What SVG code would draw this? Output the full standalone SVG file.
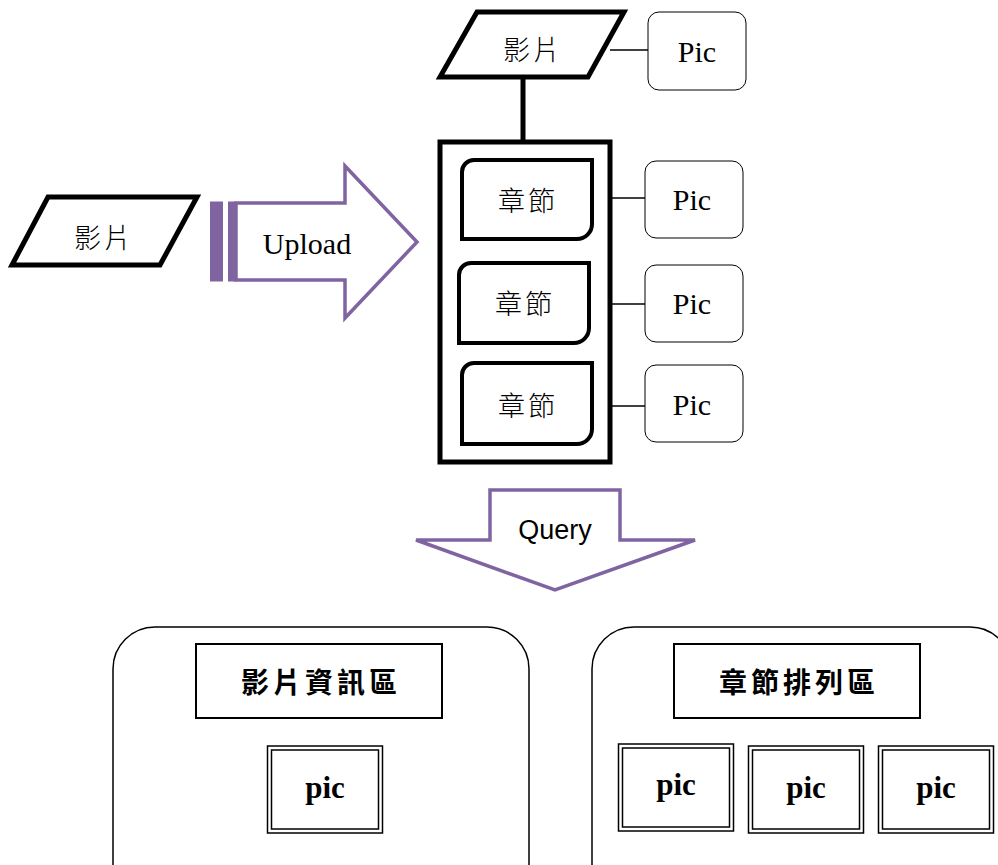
<svg xmlns="http://www.w3.org/2000/svg" width="998" height="865" viewBox="0 0 998 865">
  <style>
    .bold-shape { fill: #fff; stroke: #000; stroke-width: 5; stroke-linejoin: miter; }
    .chapter { fill: #fff; stroke: #000; stroke-width: 4; }
    .pic { fill: #fff; stroke: #000; stroke-width: 1; }
    .thin { stroke: #000; stroke-width: 1.5; fill: none; }
    .purple { fill: #fff; stroke: #8064A2; stroke-width: 3.5; stroke-linejoin: miter; }
    .cjk { font-family: "Noto Sans CJK TC", "Noto Sans CJK SC", sans-serif; font-size: 27px; font-weight: 300; letter-spacing: 3px; fill: #000; text-anchor: middle; dominant-baseline: central; }
    .cjk-title { font-family: "Noto Sans CJK TC", "Noto Sans CJK SC", sans-serif; font-size: 28px; font-weight: 700; letter-spacing: 4px; fill: #000; text-anchor: middle; dominant-baseline: central; }
    .serif { font-family: "Liberation Serif", "Times New Roman", serif; font-size: 30px; fill: #000; text-anchor: middle; }
    .serif-bold { font-family: "Liberation Serif", "Times New Roman", serif; font-size: 31px; font-weight: 700; fill: #000; text-anchor: middle; }
    .sans { font-family: "Liberation Sans", Arial, sans-serif; font-size: 27px; fill: #000; text-anchor: middle; }
    .panel { fill: #fff; stroke: #000; stroke-width: 1.5; }
    .title-box { fill: #fff; stroke: #000; stroke-width: 2; }
    .dbl-outer { fill: #fff; stroke: #000; stroke-width: 1.5; }
    .dbl-inner { fill: none; stroke: #000; stroke-width: 1.5; }
  </style>

  <!-- connectors -->
  <g id="connectors">
    <line x1="523" y1="77" x2="523" y2="142" stroke="#000" stroke-width="5"/>
    <line class="thin" x1="610" y1="50" x2="648" y2="50"/>
    <line class="thin" x1="592" y1="198" x2="645" y2="198"/>
    <line class="thin" x1="589" y1="304" x2="645" y2="304"/>
    <line class="thin" x1="592" y1="406" x2="645" y2="406"/>
  </g>

  <!-- video input on the left -->
  <g id="video-in">
    <polygon class="bold-shape" points="48,197 197,197 160,265 12,265"/>
    <text class="cjk" x="104" y="236">影片</text>
  </g>

  <!-- upload arrow -->
  <g id="upload">
    <rect x="210" y="201.5" width="13" height="80" fill="#8064A2"/>
    <rect x="228" y="201.5" width="8" height="80" fill="#8064A2"/>
    <polygon class="purple" points="236,203 345,203 345,166 417,242 345,318 345,280 236,280"/>
    <text class="serif" x="307" y="254">Upload</text>
  </g>

  <!-- stored video -->
  <g id="video">
    <polygon class="bold-shape" points="477,12 624,12 588,77 440,77"/>
    <text class="cjk" x="533" y="48">影片</text>
  </g>
  <g id="video-pic">
    <rect class="pic" x="648" y="12" width="98" height="78" rx="11"/>
    <text class="serif" x="697" y="62">Pic</text>
  </g>

  <!-- chapter container -->
  <g id="chapters">
    <rect x="440" y="142" width="170" height="320" fill="#fff" stroke="#000" stroke-width="5"/>
  </g>
  <g id="chapter-1">
    <path class="chapter" d="M462,239 L462,172 A12,12 0 0 1 474,160 L592,160 L592,224 A15,15 0 0 1 577,239 Z"/>
    <text class="cjk" x="528" y="199">章節</text>
  </g>
  <g id="chapter-2">
    <path class="chapter" d="M459,343 L459,275 A12,12 0 0 1 471,263 L589,263 L589,328 A15,15 0 0 1 574,343 Z"/>
    <text class="cjk" x="525" y="302">章節</text>
  </g>
  <g id="chapter-3">
    <path class="chapter" d="M462,444 L462,375 A12,12 0 0 1 474,363 L592,363 L592,429 A15,15 0 0 1 577,444 Z"/>
    <text class="cjk" x="528" y="404">章節</text>
  </g>

  <!-- chapter thumbnails -->
  <g id="pic-1">
    <rect class="pic" x="645" y="161" width="98" height="77" rx="11"/>
    <text class="serif" x="692" y="210">Pic</text>
  </g>
  <g id="pic-2">
    <rect class="pic" x="645" y="265" width="98" height="77" rx="11"/>
    <text class="serif" x="692" y="314">Pic</text>
  </g>
  <g id="pic-3">
    <rect class="pic" x="645" y="365" width="98" height="77" rx="11"/>
    <text class="serif" x="692" y="415">Pic</text>
  </g>

  <!-- query arrow -->
  <g id="query">
    <polygon class="purple" points="490,490 620,490 620,540 695,540 555,590 416,540 490,540"/>
    <text class="sans" x="555" y="539">Query</text>
  </g>

  <!-- video info panel -->
  <g id="info-panel">
    <rect class="panel" x="113" y="627" width="416" height="280" rx="42"/>
    <rect class="title-box" x="196" y="644" width="246" height="74"/>
    <text class="cjk-title" x="321" y="681">影片資訊區</text>
    <rect class="dbl-outer" x="267.5" y="746" width="115" height="87"/>
    <rect class="dbl-inner" x="271.5" y="750" width="107" height="79"/>
    <text class="serif-bold" x="325" y="798">pic</text>
  </g>

  <!-- chapter arrangement panel -->
  <g id="chapter-panel">
    <rect class="panel" x="592" y="627" width="420" height="280" rx="42"/>
    <rect class="title-box" x="674" y="644" width="246" height="74"/>
    <text class="cjk-title" x="799" y="681">章節排列區</text>
    <rect class="dbl-outer" x="618.5" y="744" width="115" height="87"/>
    <rect class="dbl-inner" x="622.5" y="748" width="107" height="79"/>
    <text class="serif-bold" x="676" y="795">pic</text>
    <rect class="dbl-outer" x="748.5" y="746" width="115" height="87"/>
    <rect class="dbl-inner" x="752.5" y="750" width="107" height="79"/>
    <text class="serif-bold" x="806" y="798">pic</text>
    <rect class="dbl-outer" x="878.5" y="746" width="115" height="87"/>
    <rect class="dbl-inner" x="882.5" y="750" width="107" height="79"/>
    <text class="serif-bold" x="936" y="798">pic</text>
  </g>
</svg>
